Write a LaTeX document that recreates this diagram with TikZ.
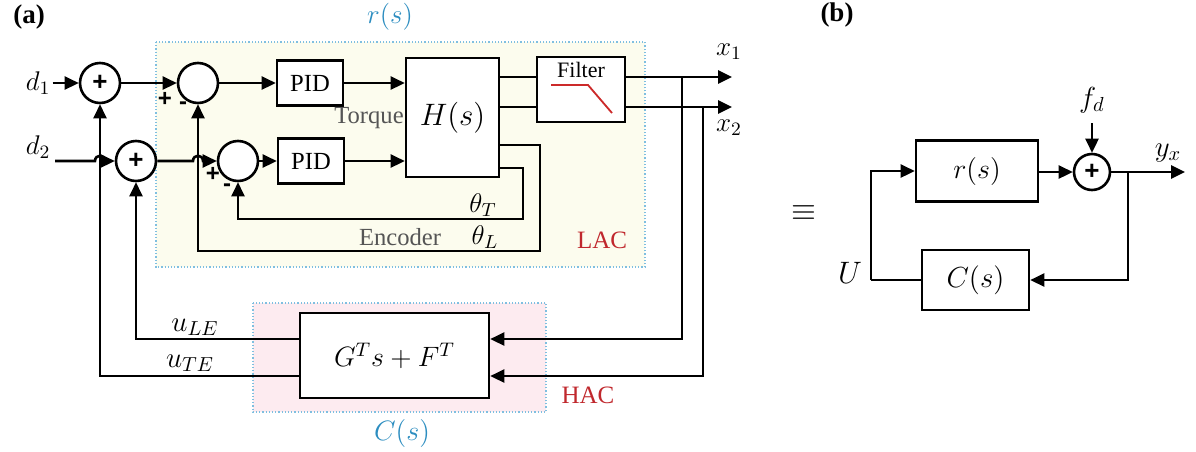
\RequirePackage{fix-cm}
\documentclass[tikz,border=0pt]{standalone}
\usepackage{fontspec}
\setmainfont{Liberation Serif}
\newfontfamily\sgnfont{Liberation Sans}
\usetikzlibrary{arrows.meta,calc}
\definecolor{lacfill}{HTML}{FCFCEE}
\definecolor{hacfill}{HTML}{FDEBF0}
\definecolor{boxblue}{HTML}{7FBFE0}
\definecolor{lblblue}{HTML}{2C8DC0}
\definecolor{lblred}{HTML}{C0282D}
\definecolor{filtred}{HTML}{CC2A2A}
\definecolor{txtgray}{HTML}{555555}
\begin{document}
\begin{tikzpicture}[x=0.5pt,y=-0.5pt,
  wire/.style={line width=1.3pt},
  arr/.style={wire,-{Triangle[length=7pt,width=6.5pt]}},
  blk/.style={draw,line width=1.3pt,fill=white,inner sep=0pt},
  sumc/.style={draw,circle,line width=1.3pt,fill=white,inner sep=0pt,minimum size=20pt,font=\sgnfont\bfseries\fontsize{13}{15}\selectfont},
  sgn/.style={inner sep=0pt,font=\sgnfont\bfseries\fontsize{12}{14}\selectfont},
  dotbox/.style={densely dotted,draw=boxblue,line width=0.6pt},
  txt/.style={inner sep=1pt,font=\fontsize{12.3}{14}\selectfont},
  mth/.style={inner sep=1pt,font=\fontsize{13.5}{16}\selectfont},
  bl/.style={inner sep=1pt,font=\bfseries\fontsize{13.5}{16}\selectfont}]
\useasboundingbox (0,0) rectangle (1196,451);
% background regions
\draw[dotbox,fill=lacfill] (156,42) rectangle (645,267);
\draw[dotbox,fill=hacfill] (253,303) rectangle (546,412);
% labels
\node[bl] (la) at (29,17) {(a)};
\node[bl] (lb) at (837,15) {(b)};
\node[mth,lblblue] (lrs) at (390,17) {$r(s)$};
\node[mth,lblblue,font=\fontsize{14}{16}\selectfont] (lcs) at (402,433) {$C(s)$};
\node[txt,lblred,font=\fontsize{12.5}{14}\selectfont] (llac) at (602,240) {LAC};
\node[txt,lblred,font=\fontsize{12.5}{14}\selectfont] (lhac) at (588,395) {HAC};
% blocks
\node[sumc] (s1) at (100,83) {+};
\node[sumc] (s2) at (198,83) {};
\node[sumc] (s3) at (136,161) {+};
\node[sumc] (s4) at (238,161) {};
\node[blk,minimum width=33pt,minimum height=22.5pt,txt] (pid1) at (310,83) {PID};
\node[blk,minimum width=33pt,minimum height=22.5pt,txt] (pid2) at (311,161) {PID};
\node[blk,minimum width=46.5pt,minimum height=59.5pt,font=\fontsize{15.5}{18}\selectfont] (H) at (452.5,117.5) {$H(s)$};
\node[blk,minimum width=44pt,minimum height=32.5pt] (F) at (581,89.5) {};
\node[txt,font=\fontsize{11}{13}\selectfont] (ft) at (581,70) {Filter};
\draw[filtred,line width=0.9pt] (551,85) -- (588,85) -- (612,113);
\node[blk,minimum width=94.5pt,minimum height=42.5pt,font=\fontsize{14}{16}\selectfont] (G) at (394.5,355.5) {$G^Ts+F^T$};
% input labels
\node[mth] (d1) at (38,83) {$d_1$};
\node[mth] (d2) at (38,147) {$d_2$};
\coordinate (d2s) at (55,161);
% signs
\node[sgn] (p2) at (165,99) {+};
\node[sgn] (m2) at (183,106) {-};
\node[sgn] (p4) at (213,174) {+};
\node[sgn] (m4) at (227,188) {-};
% level coordinates
\coordinate (yA) at (0,77);
\coordinate (yB) at (0,107);
\coordinate (yC) at (0,145);
\coordinate (yD) at (0,168);
\coordinate (yE) at (0,339);
\coordinate (yF) at (0,376);
\coordinate (x1e) at (732,77);
\coordinate (x2e) at (732,107);
\coordinate (tap1) at (682,77);
\coordinate (tap2) at (703,107);
\coordinate (cL) at (540,145);
\coordinate (cL2) at (540,251);
\coordinate (cT) at (523,168);
\coordinate (cT2) at (523,219);
% connectors
\draw[arr] (d1) -- (s1);
\draw[arr] (s1) -- (s2);
\draw[arr] (s2) -- (pid1);
\draw[arr] (pid1) -- (pid1 -| H.west);
\draw[arr] (d2s) -- (95,161) .. controls (95,154) and (105,154) .. (105,161) -- (s3);
\draw[arr] (s3) -- (193,161) .. controls (193,154) and (203,154) .. (203,161) -- (s4);
\draw[arr] (s4) -- (pid2);
\draw[arr] (pid2) -- (pid2 -| H.west);
\draw[wire] (H.east |- yA) -- (F.west |- yA);
\draw[wire] (H.east |- yB) -- (F.west |- yB);
\draw[arr] (F.east |- yA) -- (x1e);
\draw[arr] (F.east |- yB) -- (x2e);
\draw[arr] (tap1) |- (G.east |- yE);
\draw[arr] (tap2) |- (G.east |- yF);
\draw[arr] (G.west |- yE) -| (s3);
\draw[arr] (G.west |- yF) -| (s1);
\draw[arr] (H.east |- yC) -- (cL) -- (cL2) -| (s2);
\draw[arr] (H.east |- yD) -- (cT) -- (cT2) -| (s4);
% signal labels
\node[mth] (lx1) at (729,52) {$x_1$};
\node[mth] (lx2) at (729,128) {$x_2$};
\node[txt,txtgray] (ltq) at (369,118) {Torque};
\node[txt,txtgray] (lenc) at (400,237) {Encoder};
\node[mth] (lthT) at (483,205) {$\theta_T$};
\node[mth] (lthL) at (485,237) {$\theta_L$};
\node[mth,font=\fontsize{14.5}{16}\selectfont] (lule) at (195,327) {$u_{LE}$};
\node[mth,font=\fontsize{14.5}{16}\selectfont] (lute) at (190,363) {$u_{TE}$};
% part (b)
\node[mth,font=\fontsize{16}{18}\selectfont] (eq) at (804,213) {$\equiv$};
\node[blk,minimum width=61pt,minimum height=30.5pt,font=\fontsize{14}{16}\selectfont] (rb) at (977,171) {$r(s)$};
\node[sumc,minimum size=18pt] (sb) at (1092,172) {+};
\node[blk,minimum width=53.5pt,minimum height=30pt,font=\fontsize{14.5}{16}\selectfont] (cb) at (975.5,280) {$C(s)$};
\coordinate (fdt) at (1092,123);
\coordinate (yxe) at (1185,172);
\coordinate (tapb) at (1128,172);
\coordinate (cornb) at (871,280);
\draw[arr] (fdt) -- (sb);
\draw[arr] (rb.east |- sb) -- (sb);
\draw[arr] (sb) -- (yxe);
\draw[arr] (tapb) |- (cb);
\draw[wire] (cb) -- (cornb);
\draw[arr] (cornb) |- (rb.west);
\node[mth,font=\fontsize{14.5}{16}\selectfont] (lfd) at (1092,100) {$f_d$};
\node[mth,font=\fontsize{14.5}{16}\selectfont] (lyx) at (1168,153) {$y_x$};
\node[mth,font=\fontsize{15.5}{18}\selectfont] (lU) at (850,273) {$U$};
\end{tikzpicture}
\end{document}
